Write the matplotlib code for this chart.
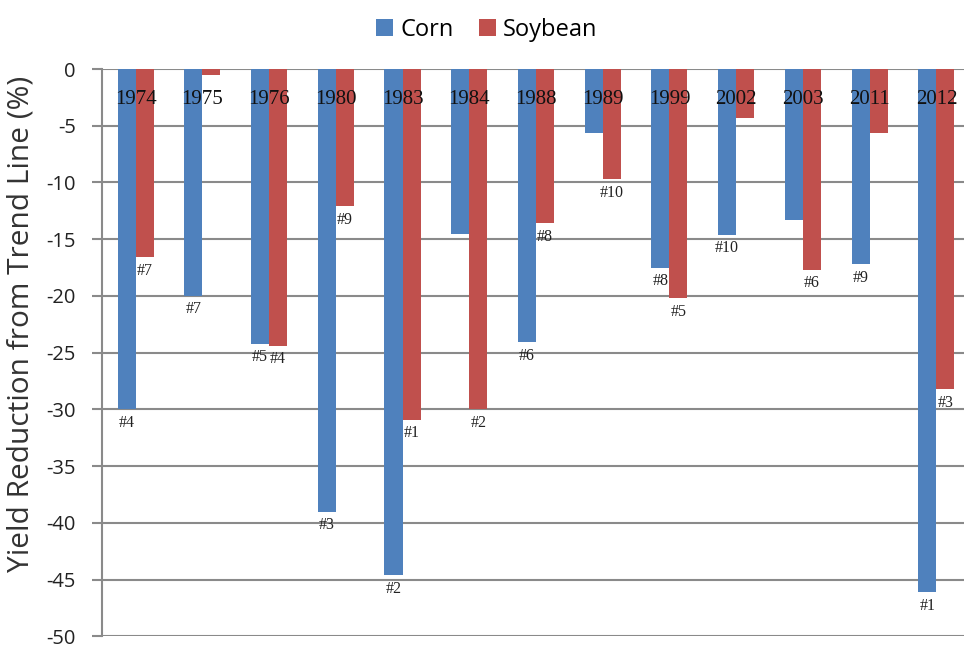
import numpy as np
import matplotlib.pyplot as plt

plt.rcParams['axes.unicode_minus'] = False

years = ['1974', '1975', '1976', '1980', '1983', '1984', '1988',
         '1989', '1999', '2002', '2003', '2011', '2012']
corn = [-30.0, -20.0, -24.2, -39.0, -44.6, -14.5, -24.1,
        -5.6, -17.5, -14.6, -13.3, -17.2, -46.1]
soybean = [-16.6, -0.5, -24.4, -12.1, -30.9, -30.0, -13.6,
           -9.7, -20.2, -4.3, -17.7, -5.6, -28.2]
corn_rank = ['#4', '#7', '#5', '#3', '#2', '', '#6',
             '', '#8', '#10', '', '#9', '#1']
soy_rank = ['#7', '', '#4', '#9', '#1', '#2', '#8',
            '#10', '#5', '', '#6', '', '#3']

blue = '#4F81BD'
red = '#C0504D'
grid = '#8A8A8A'

fig = plt.figure(figsize=(9.64, 6.48), dpi=100)
ax = fig.add_axes([0.106, 0.018, 0.900, 0.8755])

x = np.arange(len(years))
w = 0.27
b1 = ax.bar(x - w / 2, corn, w, color=blue, label='Corn', zorder=2)
b2 = ax.bar(x + w / 2, soybean, w, color=red, label='Soybean', zorder=2)

# rank labels under the bar ends
for bars, ranks in ((b1, corn_rank), (b2, soy_rank)):
    for rect, r in zip(bars, ranks):
        if not r:
            continue
        ax.annotate(r, (rect.get_x() + rect.get_width() / 2, rect.get_height()),
                    xytext=(0, -4), textcoords='offset points',
                    ha='center', va='top', fontsize=11.5,
                    family='Liberation Serif', color='#222222', zorder=3)

# year names near the top of each group
for xi, yr in zip(x, years):
    ax.text(xi, -2.65, yr, ha='center', va='center', fontsize=15,
            family='Liberation Serif', color='#111111', zorder=3)

ax.set_xlim(-0.5, len(years) - 0.5)
ax.set_ylim(-50, 0)
ax.set_yticks(np.arange(-50, 1, 5))
ax.set_xticks([])
ax.yaxis.grid(True, color=grid, linewidth=1.5, zorder=0)
ax.set_axisbelow(True)
ax.tick_params(axis='y', length=7, width=1.5, color=grid, pad=12,
               labelsize=14.5, labelcolor='#222222')
for lbl in ax.get_yticklabels():
    lbl.set_family('Open Sans')
for s in ('top', 'right', 'bottom'):
    ax.spines[s].set_visible(False)
ax.spines['left'].set_color(grid)
ax.spines['left'].set_linewidth(1.5)

ax.set_ylabel('Yield Reduction from Trend Line (%)', fontsize=21.5,
              family='Open Sans', color='#333333')
ax.yaxis.set_label_coords(-0.077, 0.55)

fig.legend(handles=[b1, b2], loc='upper center', bbox_to_anchor=(0.505, 1.005),
           ncol=2, frameon=False, prop={'family': 'Open Sans', 'size': 17},
           handlelength=0.7, handleheight=0.7, handletextpad=0.3,
           columnspacing=1.1)

fig.savefig('out.png', dpi=100)
